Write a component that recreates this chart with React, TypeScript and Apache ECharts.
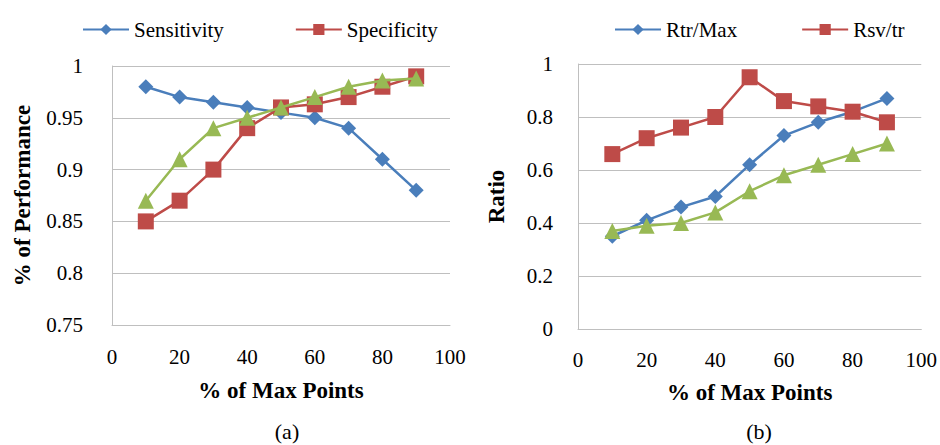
import React, { useEffect, useRef } from "react";
import * as echarts from "echarts";

const xValues = [10, 20, 30, 40, 50, 60, 70, 80, 90];
const sensitivity = [0.98, 0.97, 0.965, 0.96, 0.955, 0.95, 0.94, 0.91, 0.88];
const specificity = [0.85, 0.87, 0.9, 0.94, 0.96, 0.963, 0.97, 0.98, 0.99];
const performanceGreen = [0.87, 0.91, 0.94, 0.95, 0.96, 0.97, 0.98, 0.986, 0.988];
const rtrMax = [0.35, 0.41, 0.46, 0.5, 0.62, 0.73, 0.78, 0.82, 0.87];
const rsvTr = [0.66, 0.72, 0.76, 0.8, 0.95, 0.86, 0.84, 0.82, 0.78];
const ratioGreen = [0.37, 0.39, 0.4, 0.44, 0.52, 0.58, 0.62, 0.66, 0.7];

const BLUE = "#4a7ebb";
const RED = "#be4b48";
const GREEN = "#98b954";
const GRID = "#bfbfbf";
const FONT = "Liberation Serif";

const pairs = (ys: number[]) => xValues.map((x, i) => [x, ys[i]]);

export default function App() {
  const ref = useRef<HTMLDivElement>(null);
  useEffect(() => {
    if (!ref.current) return;
    const chart = echarts.init(ref.current, null, { renderer: "svg" });
    const fmt = (v: number) => "{t|" + String(+v.toFixed(2)) + "}";
    const tickLabel = (margin: number) => ({
      show: true,
      fontFamily: FONT,
      fontSize: 21,
      color: "#000",
      margin,
      formatter: fmt,
      rich: { t: { fontFamily: FONT, fontSize: 21, color: "#000", lineHeight: 24 } },
    });
    const xAxisBase = (gridIndex: number, gap: number, margin: number) => ({
      type: "value" as const,
      gridIndex,
      min: 0,
      max: 100,
      interval: 20,
      name: "% of Max Points",
      nameLocation: "middle" as const,
      nameGap: gap,
      nameTextStyle: { fontFamily: FONT, fontSize: 23, fontWeight: "bold", color: "#000" },
      axisLine: { show: true, lineStyle: { color: GRID, width: 1 } },
      axisTick: { show: false },
      splitLine: { show: false },
      axisLabel: tickLabel(margin),
    });
    const line = (name: string, data: number[], color: string, symbol: string, size: number, idx: number) => ({
      type: "line" as const,
      name,
      xAxisIndex: idx,
      yAxisIndex: idx,
      data: pairs(data),
      symbol,
      symbolSize: size,
      itemStyle: { color },
      lineStyle: { color, width: 2.5 },
      z: symbol === "triangle" ? 4 : symbol === "rect" ? 3 : 2,
    });
    const caption = (text: string, cx: number) => ({
      text,
      left: cx,
      top: 419,
      padding: 0,
      textAlign: "center",
      textStyle: { fontFamily: FONT, fontSize: 22, fontWeight: "normal", color: "#000", lineHeight: 24 },
    });
    chart.setOption({
      animation: false,
      backgroundColor: "#fff",
      textStyle: { fontFamily: FONT, fontSize: 21 },
      title: [caption("(a)", 287), caption("(b)", 759)],
      legend: [
        {
          data: ["Sensitivity", "Specificity"],
          left: 77,
          top: 14,
          itemWidth: 46,
          itemHeight: 14,
          itemGap: 71,
          textStyle: { fontFamily: FONT, fontSize: 21, color: "#000" },
        },
        {
          data: ["Rtr/Max", "Rsv/tr"],
          left: 609,
          top: 14,
          itemWidth: 46,
          itemHeight: 14,
          itemGap: 64,
          textStyle: { fontFamily: FONT, fontSize: 21, color: "#000" },
        },
      ],
      grid: [
        { left: 112, top: 66, width: 338, height: 259 },
        { left: 578, top: 64, width: 347, height: 265 },
      ],
      xAxis: [xAxisBase(0, 54, 20), xAxisBase(1, 52, 19)],
      yAxis: [
        {
          type: "value",
          gridIndex: 0,
          min: 0.75,
          max: 1,
          interval: 0.05,
          name: "% of Performance",
          nameLocation: "middle",
          nameGap: 78,
          nameTextStyle: { fontFamily: FONT, fontSize: 23, fontWeight: "bold", color: "#000" },
          axisLine: { show: true, lineStyle: { color: GRID, width: 1 } },
          axisTick: { show: false },
          splitLine: { show: true, lineStyle: { color: GRID, width: 1 } },
          axisLabel: tickLabel(29),
        },
        {
          type: "value",
          gridIndex: 1,
          min: 0,
          max: 1,
          interval: 0.2,
          name: "Ratio",
          nameLocation: "middle",
          nameGap: 70,
          nameTextStyle: { fontFamily: FONT, fontSize: 23, fontWeight: "bold", color: "#000" },
          axisLine: { show: true, lineStyle: { color: GRID, width: 1 } },
          axisTick: { show: false },
          splitLine: { show: true, lineStyle: { color: GRID, width: 1 } },
          axisLabel: tickLabel(25),
        },
      ],
      series: [
        line("Sensitivity", sensitivity, BLUE, "diamond", 15, 0),
        line("Specificity", specificity, RED, "rect", 16, 0),
        line("Series3", performanceGreen, GREEN, "triangle", 16, 0),
        line("Rtr/Max", rtrMax, BLUE, "diamond", 15, 1),
        line("Rsv/tr", rsvTr, RED, "rect", 16, 1),
        line("Series3b", ratioGreen, GREEN, "triangle", 16, 1),
      ],
    });
    return () => chart.dispose();
  }, []);
  return <div ref={ref} style={{ position: "fixed", left: 0, top: 0, width: 940, height: 445 }} />;
}
